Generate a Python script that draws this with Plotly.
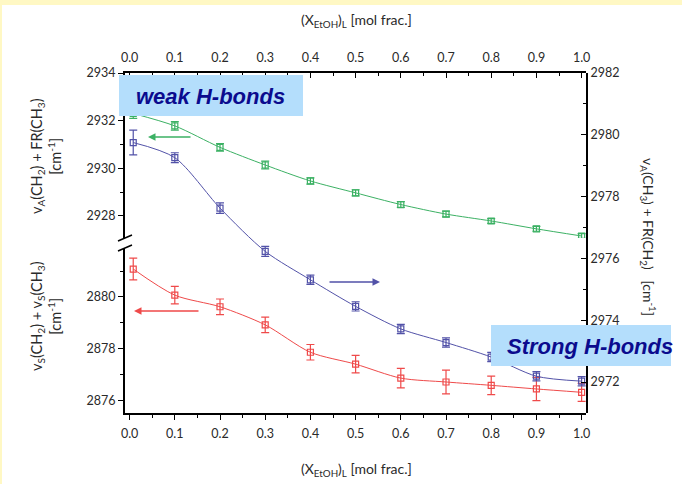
import plotly.graph_objects as go

# ---------------- data ----------------
x_frac = [0.008, 0.1, 0.2, 0.3, 0.4, 0.5, 0.6, 0.7, 0.8, 0.9, 1.0]

green_vals = [2932.30, 2931.78, 2930.88, 2930.14, 2929.47, 2928.97, 2928.48, 2928.08, 2927.79, 2927.46, 2927.16]
green_err = [0.20, 0.18, 0.16, 0.16, 0.13, 0.13, 0.12, 0.12, 0.10, 0.10, 0.10]

blue_vals = [2979.75, 2979.26, 2977.63, 2976.23, 2975.31, 2974.45, 2973.72, 2973.28, 2972.81, 2972.19, 2972.03]
blue_err = [0.40, 0.16, 0.17, 0.16, 0.15, 0.15, 0.15, 0.15, 0.15, 0.15, 0.15]

red_vals = [2881.08, 2880.07, 2879.62, 2878.92, 2877.86, 2877.40, 2876.86, 2876.71, 2876.58, 2876.44, 2876.31]
red_err = [0.42, 0.34, 0.30, 0.30, 0.30, 0.34, 0.38, 0.46, 0.36, 0.45, 0.35]

x_ticks = [0.0, 0.1, 0.2, 0.3, 0.4, 0.5, 0.6, 0.7, 0.8, 0.9, 1.0]

GREEN = "#3cb164"
BLUE = "#5252a8"
RED = "#ef4a4a"
TXT = "#2a2a2a"
FONT = "Lato"

W, H = 682, 484
L, R, T, B = 125, 96, 73, 71
PW, PH = W - L - R, H - T - B


def px(xp):
    return (xp - L) / PW


def py(yp):
    return (H - B - yp) / PH


def trace(x, y, err, color, xa, ya):
    return go.Scatter(
        x=x, y=y, xaxis=xa, yaxis=ya, mode="lines+markers",
        line=dict(color=color, width=1, shape="spline", smoothing=0.8),
        marker=dict(symbol="square-open", size=6, color=color, line=dict(width=1.2, color=color)),
        error_y=dict(type="data", array=err, visible=True, color=color, thickness=1.2, width=4),
        showlegend=False, hoverinfo="skip",
    )


fig = go.Figure()
fig.add_trace(trace(x_frac, green_vals, green_err, GREEN, "x", "y"))
fig.add_trace(trace(x_frac, red_vals, red_err, RED, "x", "y2"))
fig.add_trace(trace(x_frac, blue_vals, blue_err, BLUE, "x", "y3"))
fig.add_trace(go.Scatter(x=[x_ticks[0]], y=[green_vals[0]], xaxis="x2", yaxis="y",
                         mode="markers", marker=dict(opacity=0), showlegend=False, hoverinfo="skip"))

xr = [-0.0102, 1.0097]
tickfont = dict(family=FONT, size=12.5, color=TXT)
common_x = dict(range=xr, tickvals=x_ticks, ticktext=[f"{v:.1f}" for v in x_ticks],
                showline=True, linecolor="black", linewidth=1.5, showgrid=False, zeroline=False,
                ticklen=5, tickwidth=1.2, tickcolor="black", tickfont=tickfont)

fig.update_layout(
    width=W, height=H,
    margin=dict(l=L, r=R, t=T, b=B),
    paper_bgcolor="white", plot_bgcolor="rgba(0,0,0,0)",
    xaxis=dict(**common_x, anchor="y2", side="bottom", ticks="outside", ticklabelstandoff=3,
               minor=dict(dtick=0.05, tick0=0, ticks="outside", ticklen=3, tickcolor="black")),
    xaxis2=dict(**common_x, overlaying="x", anchor="y", side="top", ticks="inside", ticklabelstandoff=4,
                minor=dict(dtick=0.05, tick0=0, ticks="inside", ticklen=3, tickcolor="black")),
    yaxis=dict(domain=[0.515, 1], range=[2927.08, 2934], anchor="x", side="left",
               tick0=2926, dtick=2, ticks="outside", ticklen=5, tickwidth=1.2, tickcolor="black",
               minor=dict(dtick=1, ticks="outside", ticklen=3, tickcolor="black"),
               showline=True, linecolor="black", linewidth=1.8, showgrid=False, zeroline=False,
               tickfont=tickfont),
    yaxis2=dict(domain=[0, 0.485], range=[2875.51, 2881.89], anchor="x", side="left",
                tick0=2876, dtick=2, ticks="outside", ticklen=5, tickwidth=1.2, tickcolor="black",
                minor=dict(dtick=1, ticks="outside", ticklen=3, tickcolor="black"),
                showline=True, linecolor="black", linewidth=1.8, showgrid=False, zeroline=False,
                tickfont=tickfont),
    yaxis3=dict(domain=[0, 1], range=[2971, 2982], anchor="x", side="right",
                tick0=2972, dtick=2, ticks="inside", ticklen=5, tickwidth=1.2, tickcolor="black",
                minor=dict(dtick=1, ticks="inside", ticklen=3, tickcolor="black"),
                showline=True, linecolor="black", linewidth=1.8, showgrid=False, zeroline=False,
                tickfont=tickfont),
)

shapes = []
# yellow slide border
shapes.append(dict(type="rect", xref="paper", yref="paper", x0=px(0), x1=px(W), y0=py(5), y1=py(0),
                   fillcolor="#fff8c4", line=dict(width=0), layer="below"))
shapes.append(dict(type="rect", xref="paper", yref="paper", x0=px(0), x1=px(2), y0=py(H), y1=py(0),
                   fillcolor="#fff8c4", line=dict(width=0), layer="below"))
# axis break marks
for yb in (238, 248):
    shapes.append(dict(type="line", xref="paper", yref="paper", x0=px(118), y0=py(yb + 3),
                       x1=px(132), y1=py(yb - 3), line=dict(color="black", width=1.5)))
# label boxes
shapes.append(dict(type="rect", xref="paper", yref="paper", x0=px(119), x1=px(303), y0=py(116), y1=py(75),
                   fillcolor="#b4defc", line=dict(width=0), layer="above"))
shapes.append(dict(type="rect", xref="paper", yref="paper", x0=px(491), x1=px(671), y0=py(366), y1=py(325),
                   fillcolor="#b4defc", line=dict(width=0), layer="above"))
fig.update_layout(shapes=shapes)

title_font = dict(family=FONT, size=14, color=TXT)
ltitle_font = dict(family=FONT, size=14.5, color=TXT)
xtitle = "(X<sub>EtOH</sub>)<sub>L</sub> [mol frac.]"


def label(text, xp, yp, font, angle=0, xanchor="center"):
    return dict(text=text, x=px(xp), y=py(yp), xref="paper", yref="paper", showarrow=False,
                xanchor=xanchor, yanchor="middle", textangle=angle, font=font)


def arrow(head, tail, color):
    return dict(text="", x=px(head[0]), y=py(head[1]), xref="paper", yref="paper",
                ax=tail[0] - head[0], ay=tail[1] - head[1], axref="pixel", ayref="pixel",
                showarrow=True, arrowhead=2, arrowsize=1, arrowwidth=1.5, arrowcolor=color)


hb_font = dict(family="Liberation Sans", size=22, color="#0b0b8e")
ann = [
    label(xtitle, 356, 20, title_font),
    label(xtitle, 356, 469, title_font),
    label("v<sub>A</sub>(CH<sub>2</sub>) + FR(CH<sub>3</sub>)<br>[cm<sup>-1</sup>]", 46, 156, ltitle_font, -90),
    label("v<sub>S</sub>(CH<sub>2</sub>) + v<sub>S</sub>(CH<sub>3</sub>)<br>[cm<sup>-1</sup>]", 46, 316, ltitle_font, -90),
    label("v<sub>A</sub>(CH<sub>3</sub>) + FR(CH<sub>2</sub>)   [cm<sup>-1</sup>]", 648, 237, title_font, 90),
    label("<b><i>weak H-bonds</i></b>", 134, 96, hb_font, xanchor="left"),
    label("<b><i>Strong H-bonds</i></b>", 505, 346, hb_font, xanchor="left"),
    arrow((148, 137), (192, 137), GREEN),
    arrow((380, 282), (328, 282), BLUE),
    arrow((134, 311), (200, 311), RED),
]
fig.update_layout(annotations=ann)

fig.write_html("out.html")
